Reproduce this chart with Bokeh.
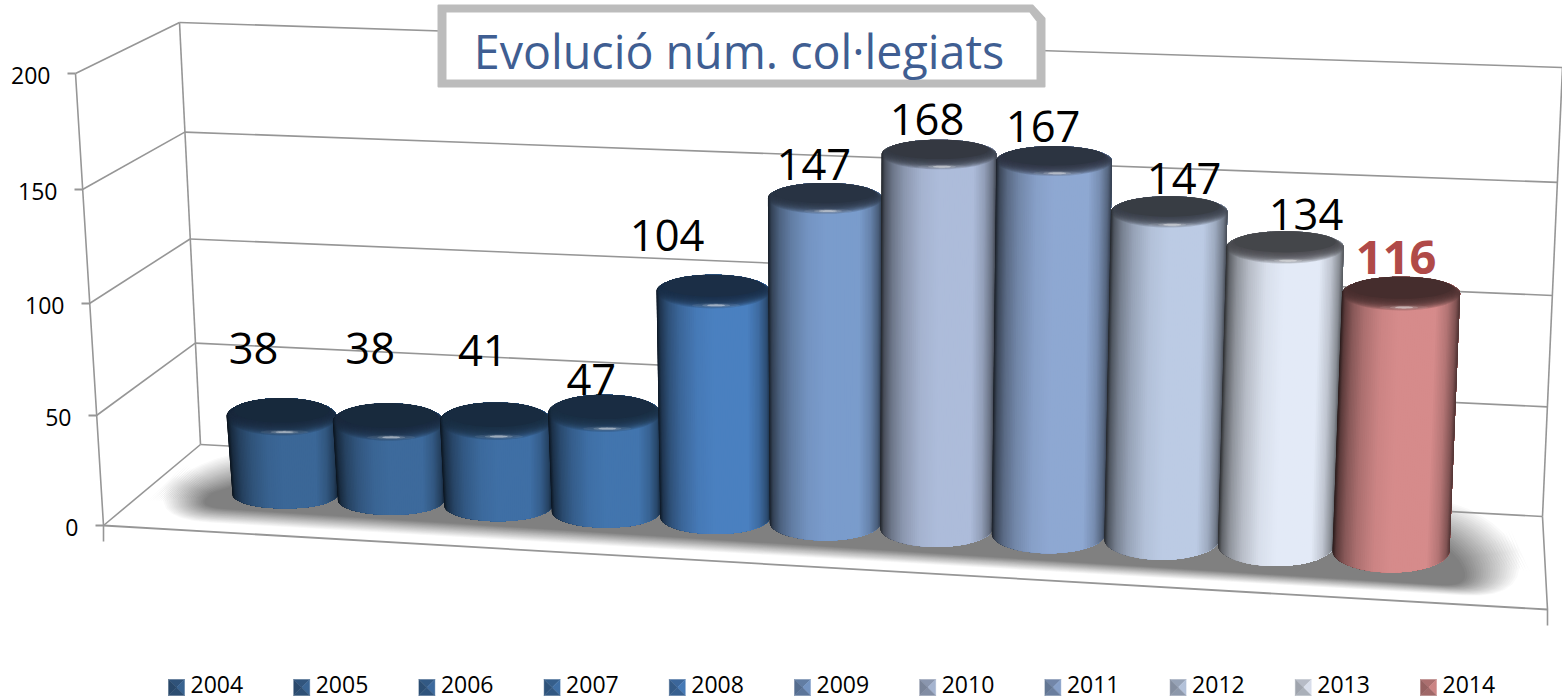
import numpy as np
from bokeh.plotting import figure
from bokeh.models import Range1d
from bokeh.core.properties import value
from bokeh.embed import file_html
from bokeh.resources import INLINE

# ---- data ----
years = ["2004", "2005", "2006", "2007", "2008", "2009", "2010", "2011", "2012", "2013", "2014"]
members = [38, 38, 41, 47, 104, 147, 168, 167, 147, 134, 116]
axis_ticks = [0, 50, 100, 150, 200]
title_text = "Evolució núm. col·legiats"

# ---- styles and layout calibration ----
bar_colors = ["#3b6797", "#3d6a9c", "#3f6fa5", "#4275ae", "#4a80c0", "#7a9ccc",
              "#adbcda", "#8ea8d2", "#bccbe4", "#e3eaf7", "#d68b8b"]
GRID = "#969696"
FONT = value("Open Sans")
label_dx = [-28, -18, -13, -13, -46, -11, -12, -11, 15, 21, -5]
label_dy = [50, 55, 52, 15, 39, 18, 20, 20, 18, 17, 19]
top_fix = [1, 2, 2, 2, -3, -4, -3, -1, 1, 2, 4]


def rgb(h):
    return np.array([int(h[k:k + 2], 16) for k in (1, 3, 5)], float)


def tohex(c):
    c = np.clip(np.round(c), 0, 255).astype(int)
    return "#%02x%02x%02x" % tuple(c)


# ---- 3-D projection of the Excel chart box ----
def back_left(v):
    return 200 - 0.105 * v, 444 - 2.0 * v - 0.00055 * v * v


def back_right(v):
    return 1542 + 0.1 * v, 516 - 2.175 * v - 0.00035 * v * v


def front_left(v):
    return 103 - 0.14 * v, 525 - 2.18 * v - 0.0004 * v * v


FRONT_RIGHT = (1547, 609)


def base_x(i):
    return 284.5 + 105.5 * i + 0.51 * i * i


def base_bottom(i):
    return 508 + 6.4 * i


def bar_total_height(i, v):
    return 2.3 * v + 22 + 0.3 * i + top_fix[i]


def top_x(i, v):
    return base_x(i) + v * ((i - 4) * 0.0178 - 0.02)


p = figure(width=1562, height=700, x_range=Range1d(0, 1562), y_range=Range1d(700, 0),
           output_backend="svg", toolbar_location=None, min_border=0)
p.axis.visible = False
p.grid.visible = False
p.outline_line_color = None
p.background_fill_color = "#ffffff"
p.border_fill_color = "#ffffff"


# ---- floor shadow ----
def rounded(pts, r):
    pts = np.array(pts, float)
    n = len(pts)
    out = []
    for k in range(n):
        a, b, c = pts[k - 1], pts[k], pts[(k + 1) % n]
        u = b + (a - b) / np.linalg.norm(a - b) * r
        w = b + (c - b) / np.linalg.norm(c - b) * r
        for s in np.linspace(0, 1, 10):
            out.append((1 - s) ** 2 * u + 2 * s * (1 - s) * b + s * s * w)
    return np.array(out)


outer = np.array([(128, 518), (1545, 600), (1500, 500), (200, 445)], float)
inner = np.array([(185, 506), (1480, 587), (1435, 530), (235, 480)], float)
LAY = 24
sx, sy, sc = [], [], []
for k in range(LAY + 1):
    t = k / LAY
    poly = rounded(outer * (1 - t) + inner * t, 80 - 40 * t)
    g = 255 - 127 * t
    sx.append(list(poly[:, 0]))
    sy.append(list(poly[:, 1]))
    sc.append(tohex(np.array([g, g, g])))
p.patches("x", "y", source=dict(x=sx, y=sy, c=sc), fill_color="c", line_color=None)

# ---- box lines ----
for v in axis_ticks:
    a, b, c = back_left(v), back_right(v), front_left(v)
    p.line([a[0], b[0]], [a[1], b[1]], line_color=GRID, line_width=1.6)
    p.line([a[0], c[0]], [a[1], c[1]], line_color=GRID, line_width=1.6)
    p.line([c[0] - 8, c[0]], [c[1], c[1]], line_color=GRID, line_width=1.8)
top, bot = axis_ticks[-1], axis_ticks[0]
for f in (back_left, back_right):
    p.line([f(top)[0], f(bot)[0]], [f(top)[1], f(bot)[1]], line_color=GRID, line_width=1.6)
fl0, fl1 = front_left(top), front_left(bot)
p.line([fl0[0], fl1[0], fl1[0]], [fl0[1], fl1[1], fl1[1] + 16], line_color=GRID, line_width=1.6)
p.line([fl1[0], FRONT_RIGHT[0]], [fl1[1], FRONT_RIGHT[1]], line_color=GRID, line_width=1.8)
p.line([back_right(0)[0], FRONT_RIGHT[0], FRONT_RIGHT[0]],
       [back_right(0)[1], FRONT_RIGHT[1], FRONT_RIGHT[1] + 16], line_color=GRID, line_width=1.6)

# ---- cylinders ----
PX, PY, PC, PA = [], [], [], []
STRIPS = 80
th = np.linspace(0, np.pi, STRIPS + 1)
shade_t = [0, .03, .1, .2, .35, .5, .8, .9, .97, 1]
shade_m = [.2, .42, .63, .8, .95, 1, 1, .84, .6, .38]


def add(x, y, c, a=1.0):
    PX.append(list(x))
    PY.append(list(y))
    PC.append(c)
    PA.append(a)


for i, v in enumerate(members):
    col = rgb(bar_colors[i])
    bott = base_bottom(i)
    topy = bott - bar_total_height(i, v)
    sb = 14 + 0.8 * i
    yb = bott - sb
    wb = 105 + 1.2 * i
    wt = 110 + 0.8 * i
    xb, xt = base_x(i), top_x(i, v)
    hl_off = 27 + (topy - 140) * 7 / 257
    cap_b = hl_off * 0.55
    yc = topy + cap_b
    for k in range(STRIPS):
        rest = th[k:]
        t = (1 - np.cos((th[k] + th[k + 1]) / 2)) / 2
        m = np.interp(t, shade_t, shade_m)
        x = list(xb - wb / 2 * np.cos(rest)) + list((xt - wt / 2 * np.cos(rest))[::-1])
        y = list(yb + sb * np.sin(rest)) + list((yc - cap_b * np.sin(rest))[::-1])
        add(x, y, tohex(col * m))
    lum = col.mean() / 255
    dark = col * max(0.30, 0.40 - 0.16 * (lum - 0.4) / 0.5)
    ang = np.linspace(0, 2 * np.pi, 64)
    N = 12
    for k in range(N + 1):
        t = k / N
        sy_ = cap_b * (1 - t) + hl_off * 0.36 * t
        sx_ = wt / 2 * (0.995 - 0.13 * t)
        add(xt + sx_ * np.cos(ang), topy + sy_ + sy_ * np.sin(ang), tohex(dark),
            1.0 if k == N else 0.2)
    for k, (hw, hh, al) in enumerate([(24, 2.2, .08), (14, 1.5, .18), (9, 1.0, .4)]):
        add(xt + 3 + hw * np.cos(ang), topy + hl_off + hh * np.sin(ang), "#ffffff", al)

p.patches("x", "y", source=dict(x=PX, y=PY, c=PC, a=PA), fill_color="c", fill_alpha="a",
          line_color=None)

# ---- data labels ----
lx = [top_x(i, v) + label_dx[i] for i, v in enumerate(members)]
ly = [base_bottom(i) - bar_total_height(i, v) - label_dy[i] for i, v in enumerate(members)]
lt = [str(v) for v in members]
p.text(lx[:-1], ly[:-1], text=lt[:-1], text_font=FONT, text_font_size=value("43.5px"),
       text_align="center", text_baseline="middle", text_color="#000000")
p.text(lx[-1:], ly[-1:], text=lt[-1:], text_font=FONT, text_font_size=value("47px"),
       text_font_style="bold", text_align="center", text_baseline="middle", text_color="#b04a48")

# ---- axis labels ----
ax = [front_left(v)[0] - 25 for v in axis_ticks]
ay = [front_left(v)[1] + 2 for v in axis_ticks]
p.text(ax, ay, text=[str(v) for v in axis_ticks], text_font=FONT, text_font_size=value("23px"),
       text_align="right", text_baseline="middle", text_color="#000000")

# ---- title box ----
p.patch([446, 1032, 1044, 1044, 438, 438], [5, 5, 18, 86, 86, 5], fill_color="#bcbcbc", line_color="#bcbcbc",
        line_width=2, line_join="round")
p.patch([446, 1029, 1036, 1036, 446], [12, 12, 21, 79, 79], fill_color="#ffffff", line_color=None)
p.text([738.5], [50], text=[title_text], text_font=FONT, text_font_size=value("46.6px"),
       text_align="center", text_baseline="middle", text_color="#3f5e92")

# ---- legend ----
LEG_X0, LEG_DX, LEG_Y, S = 168, 125.2, 679, 16
for i, y in enumerate(years):
    c = rgb(bar_colors[i])
    x0 = LEG_X0 + i * LEG_DX
    cx, cy = x0 + S / 2, LEG_Y + S / 2
    tris = [([x0, x0 + S, cx], [LEG_Y, LEG_Y, cy], .8),
            ([x0 + S, x0 + S, cx], [LEG_Y, LEG_Y + S, cy], .95),
            ([x0 + S, x0, cx], [LEG_Y + S, LEG_Y + S, cy], .75),
            ([x0, x0, cx], [LEG_Y + S, LEG_Y, cy], .7)]
    p.patches([t[0] for t in tris], [t[1] for t in tris],
              fill_color=[tohex(c * t[2]) for t in tris], line_color=[tohex(c * t[2]) for t in tris], line_width=0.4)
p.text([LEG_X0 + i * LEG_DX + 22 for i in range(len(years))], [684] * len(years), text=years,
       text_font=FONT, text_font_size=value("23px"), text_align="left", text_baseline="middle",
       text_color="#000000")

open("out.html", "w").write(file_html(p, INLINE))
